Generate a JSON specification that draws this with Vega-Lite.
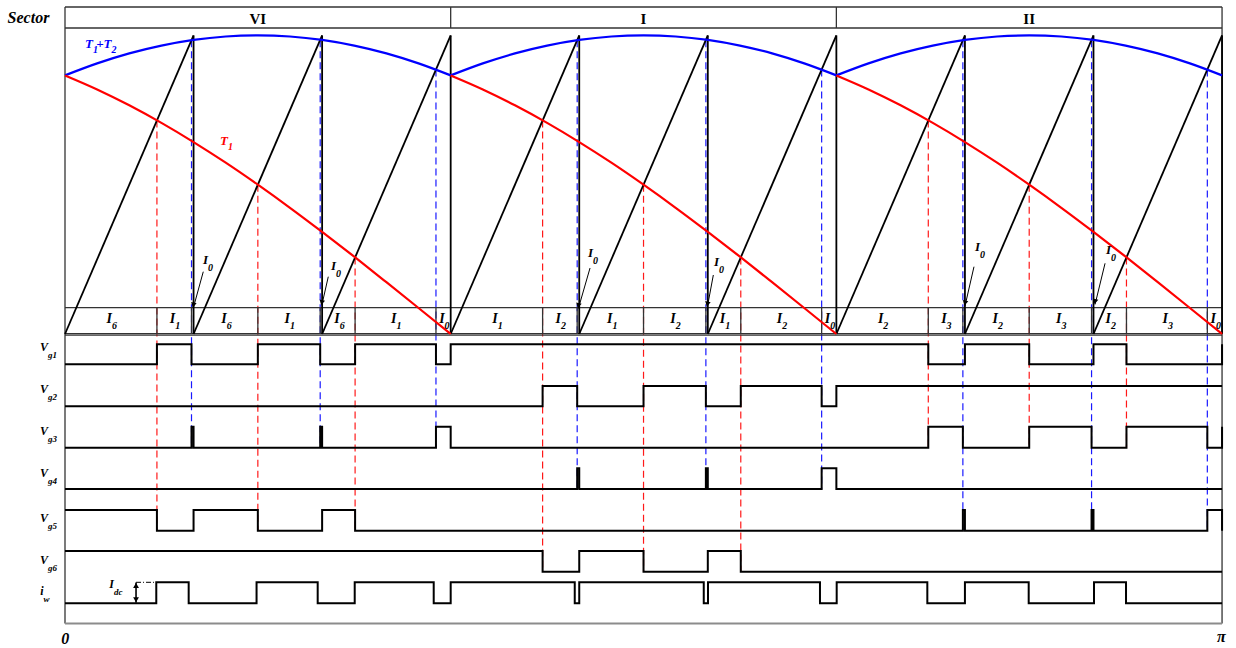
{
  "$schema": "https://vega.github.io/schema/vega-lite/v6.json",
  "width": 1236,
  "height": 648,
  "autosize": {"type": "fit", "contains": "padding"},
  "padding": 0,
  "background": "white",
  "config": {"view": {"stroke": null}, "text": {"font": "Liberation Serif"}},
  "datasets": {
    "sectorCells": [
      {"label": "VI", "mid": 30, "ymid": 18.5},
      {"label": "I", "mid": 90, "ymid": 18.5},
      {"label": "II", "mid": 150, "ymid": 18.5}
    ],
    "curves": [
      {"curve": "T1+T2", "sec": "VI", "x": 0, "y": 75.4}, {"curve": "T1+T2", "sec": "VI", "x": 5, "y": 63.4}, {"curve": "T1+T2", "sec": "VI", "x": 10, "y": 53.4}, {"curve": "T1+T2", "sec": "VI", "x": 15, "y": 45.6}, {"curve": "T1+T2", "sec": "VI", "x": 20, "y": 39.9}, {"curve": "T1+T2", "sec": "VI", "x": 25, "y": 36.5}, {"curve": "T1+T2", "sec": "VI", "x": 30, "y": 35.4}, {"curve": "T1+T2", "sec": "VI", "x": 35, "y": 36.5}, {"curve": "T1+T2", "sec": "VI", "x": 40, "y": 39.9}, {"curve": "T1+T2", "sec": "VI", "x": 45, "y": 45.6}, {"curve": "T1+T2", "sec": "VI", "x": 50, "y": 53.4}, {"curve": "T1+T2", "sec": "VI", "x": 55, "y": 63.4}, {"curve": "T1+T2", "sec": "VI", "x": 60, "y": 75.4},
      {"curve": "T1+T2", "sec": "I", "x": 60, "y": 75.4}, {"curve": "T1+T2", "sec": "I", "x": 65, "y": 63.4}, {"curve": "T1+T2", "sec": "I", "x": 70, "y": 53.4}, {"curve": "T1+T2", "sec": "I", "x": 75, "y": 45.6}, {"curve": "T1+T2", "sec": "I", "x": 80, "y": 39.9}, {"curve": "T1+T2", "sec": "I", "x": 85, "y": 36.5}, {"curve": "T1+T2", "sec": "I", "x": 90, "y": 35.4}, {"curve": "T1+T2", "sec": "I", "x": 95, "y": 36.5}, {"curve": "T1+T2", "sec": "I", "x": 100, "y": 39.9}, {"curve": "T1+T2", "sec": "I", "x": 105, "y": 45.6}, {"curve": "T1+T2", "sec": "I", "x": 110, "y": 53.4}, {"curve": "T1+T2", "sec": "I", "x": 115, "y": 63.4}, {"curve": "T1+T2", "sec": "I", "x": 120, "y": 75.4},
      {"curve": "T1+T2", "sec": "II", "x": 120, "y": 75.4}, {"curve": "T1+T2", "sec": "II", "x": 125, "y": 63.4}, {"curve": "T1+T2", "sec": "II", "x": 130, "y": 53.4}, {"curve": "T1+T2", "sec": "II", "x": 135, "y": 45.6}, {"curve": "T1+T2", "sec": "II", "x": 140, "y": 39.9}, {"curve": "T1+T2", "sec": "II", "x": 145, "y": 36.5}, {"curve": "T1+T2", "sec": "II", "x": 150, "y": 35.4}, {"curve": "T1+T2", "sec": "II", "x": 155, "y": 36.5}, {"curve": "T1+T2", "sec": "II", "x": 160, "y": 39.9}, {"curve": "T1+T2", "sec": "II", "x": 165, "y": 45.6}, {"curve": "T1+T2", "sec": "II", "x": 170, "y": 53.4}, {"curve": "T1+T2", "sec": "II", "x": 175, "y": 63.4}, {"curve": "T1+T2", "sec": "II", "x": 180, "y": 75.4},
      {"curve": "T1", "sec": "VI", "x": 0, "y": 75.4}, {"curve": "T1", "sec": "VI", "x": 5, "y": 89.4}, {"curve": "T1", "sec": "VI", "x": 10, "y": 105.3}, {"curve": "T1", "sec": "VI", "x": 15, "y": 122.9}, {"curve": "T1", "sec": "VI", "x": 20, "y": 142.1}, {"curve": "T1", "sec": "VI", "x": 25, "y": 162.7}, {"curve": "T1", "sec": "VI", "x": 30, "y": 184.7}, {"curve": "T1", "sec": "VI", "x": 35, "y": 207.8}, {"curve": "T1", "sec": "VI", "x": 40, "y": 231.9}, {"curve": "T1", "sec": "VI", "x": 45, "y": 256.7}, {"curve": "T1", "sec": "VI", "x": 50, "y": 282.2}, {"curve": "T1", "sec": "VI", "x": 55, "y": 308.0}, {"curve": "T1", "sec": "VI", "x": 60, "y": 334},
      {"curve": "T1", "sec": "I", "x": 60, "y": 75.4}, {"curve": "T1", "sec": "I", "x": 65, "y": 89.4}, {"curve": "T1", "sec": "I", "x": 70, "y": 105.3}, {"curve": "T1", "sec": "I", "x": 75, "y": 122.9}, {"curve": "T1", "sec": "I", "x": 80, "y": 142.1}, {"curve": "T1", "sec": "I", "x": 85, "y": 162.7}, {"curve": "T1", "sec": "I", "x": 90, "y": 184.7}, {"curve": "T1", "sec": "I", "x": 95, "y": 207.8}, {"curve": "T1", "sec": "I", "x": 100, "y": 231.9}, {"curve": "T1", "sec": "I", "x": 105, "y": 256.7}, {"curve": "T1", "sec": "I", "x": 110, "y": 282.2}, {"curve": "T1", "sec": "I", "x": 115, "y": 308.0}, {"curve": "T1", "sec": "I", "x": 120, "y": 334},
      {"curve": "T1", "sec": "II", "x": 120, "y": 75.4}, {"curve": "T1", "sec": "II", "x": 125, "y": 89.4}, {"curve": "T1", "sec": "II", "x": 130, "y": 105.3}, {"curve": "T1", "sec": "II", "x": 135, "y": 122.9}, {"curve": "T1", "sec": "II", "x": 140, "y": 142.1}, {"curve": "T1", "sec": "II", "x": 145, "y": 162.7}, {"curve": "T1", "sec": "II", "x": 150, "y": 184.7}, {"curve": "T1", "sec": "II", "x": 155, "y": 207.8}, {"curve": "T1", "sec": "II", "x": 160, "y": 231.9}, {"curve": "T1", "sec": "II", "x": 165, "y": 256.7}, {"curve": "T1", "sec": "II", "x": 170, "y": 282.2}, {"curve": "T1", "sec": "II", "x": 175, "y": 308.0}, {"curve": "T1", "sec": "II", "x": 180, "y": 334}
    ],
    "jumps": [{"x": 0}, {"x": 60}, {"x": 120}, {"x": 180}],
    "guides": [
      {"curve": "T1", "x": 14.3, "y": 120.5, "y2": 531},
      {"curve": "T1", "x": 30, "y": 184.7, "y2": 531},
      {"curve": "T1", "x": 45.13, "y": 257.4, "y2": 531},
      {"curve": "T1", "x": 74.3, "y": 120.5, "y2": 572},
      {"curve": "T1", "x": 90, "y": 184.7, "y2": 572},
      {"curve": "T1", "x": 105.13, "y": 257.4, "y2": 572},
      {"curve": "T1", "x": 134.3, "y": 120.5, "y2": 448},
      {"curve": "T1", "x": 150, "y": 184.7, "y2": 448},
      {"curve": "T1", "x": 165.13, "y": 257.4, "y2": 448},
      {"curve": "T1+T2", "x": 19.68, "y": 40.2, "y2": 448},
      {"curve": "T1+T2", "x": 39.7, "y": 40.2, "y2": 448},
      {"curve": "T1+T2", "x": 57.71, "y": 69.6, "y2": 448},
      {"curve": "T1+T2", "x": 79.68, "y": 40.2, "y2": 489},
      {"curve": "T1+T2", "x": 99.7, "y": 40.2, "y2": 489},
      {"curve": "T1+T2", "x": 117.71, "y": 69.6, "y2": 489},
      {"curve": "T1+T2", "x": 139.68, "y": 40.2, "y2": 531},
      {"curve": "T1+T2", "x": 159.7, "y": 40.2, "y2": 531},
      {"curve": "T1+T2", "x": 177.71, "y": 69.6, "y2": 531}
    ],
    "segs": [
      {"kind": "carrier", "x": 0, "y": 334, "x2": 20, "y2": 35.4},
      {"kind": "carrier", "x": 20, "y": 334, "x2": 40, "y2": 35.4},
      {"kind": "carrier", "x": 40, "y": 334, "x2": 60, "y2": 35.4},
      {"kind": "carrier", "x": 60, "y": 334, "x2": 80, "y2": 35.4},
      {"kind": "carrier", "x": 80, "y": 334, "x2": 100, "y2": 35.4},
      {"kind": "carrier", "x": 100, "y": 334, "x2": 120, "y2": 35.4},
      {"kind": "carrier", "x": 120, "y": 334, "x2": 140, "y2": 35.4},
      {"kind": "carrier", "x": 140, "y": 334, "x2": 160, "y2": 35.4},
      {"kind": "carrier", "x": 160, "y": 334, "x2": 180, "y2": 35.4},
      {"kind": "carrier", "x": 20, "y": 35.4, "x2": 20, "y2": 334},
      {"kind": "carrier", "x": 40, "y": 35.4, "x2": 40, "y2": 334},
      {"kind": "carrier", "x": 60, "y": 35.4, "x2": 60, "y2": 334},
      {"kind": "carrier", "x": 80, "y": 35.4, "x2": 80, "y2": 334},
      {"kind": "carrier", "x": 100, "y": 35.4, "x2": 100, "y2": 334},
      {"kind": "carrier", "x": 120, "y": 35.4, "x2": 120, "y2": 334},
      {"kind": "carrier", "x": 140, "y": 35.4, "x2": 140, "y2": 334},
      {"kind": "carrier", "x": 160, "y": 35.4, "x2": 160, "y2": 334},
      {"kind": "carrier", "x": 180, "y": 35.4, "x2": 180, "y2": 334},
      {"kind": "frame", "x": 0, "y": 7, "x2": 180, "y2": 7},
      {"kind": "frame", "x": 0, "y": 28, "x2": 180, "y2": 28},
      {"kind": "frame", "x": 0, "y": 7, "x2": 0, "y2": 623.5},
      {"kind": "frame", "x": 60, "y": 7, "x2": 60, "y2": 28},
      {"kind": "frame", "x": 120, "y": 7, "x2": 120, "y2": 28},
      {"kind": "frame", "x": 180, "y": 7, "x2": 180, "y2": 623.5},
      {"kind": "frame", "x": 0, "y": 307.7, "x2": 180, "y2": 307.7},
      {"kind": "frame", "x": 0, "y": 333.7, "x2": 180, "y2": 333.7},
      {"kind": "frame", "x": 0, "y": 335.2, "x2": 180, "y2": 335.2},
      {"kind": "frame", "x": 14.3, "y": 307.7, "x2": 14.3, "y2": 333.7},
      {"kind": "frame", "x": 19.68, "y": 307.7, "x2": 19.68, "y2": 333.7},
      {"kind": "frame", "x": 30, "y": 307.7, "x2": 30, "y2": 333.7},
      {"kind": "frame", "x": 39.7, "y": 307.7, "x2": 39.7, "y2": 333.7},
      {"kind": "frame", "x": 45.13, "y": 307.7, "x2": 45.13, "y2": 333.7},
      {"kind": "frame", "x": 57.71, "y": 307.7, "x2": 57.71, "y2": 333.7},
      {"kind": "frame", "x": 74.3, "y": 307.7, "x2": 74.3, "y2": 333.7},
      {"kind": "frame", "x": 79.68, "y": 307.7, "x2": 79.68, "y2": 333.7},
      {"kind": "frame", "x": 90, "y": 307.7, "x2": 90, "y2": 333.7},
      {"kind": "frame", "x": 99.7, "y": 307.7, "x2": 99.7, "y2": 333.7},
      {"kind": "frame", "x": 105.13, "y": 307.7, "x2": 105.13, "y2": 333.7},
      {"kind": "frame", "x": 117.71, "y": 307.7, "x2": 117.71, "y2": 333.7},
      {"kind": "frame", "x": 134.3, "y": 307.7, "x2": 134.3, "y2": 333.7},
      {"kind": "frame", "x": 139.68, "y": 307.7, "x2": 139.68, "y2": 333.7},
      {"kind": "frame", "x": 150, "y": 307.7, "x2": 150, "y2": 333.7},
      {"kind": "frame", "x": 159.7, "y": 307.7, "x2": 159.7, "y2": 333.7},
      {"kind": "frame", "x": 165.13, "y": 307.7, "x2": 165.13, "y2": 333.7},
      {"kind": "frame", "x": 177.71, "y": 307.7, "x2": 177.71, "y2": 333.7},
      {"kind": "base", "x": 0, "y": 623.5, "x2": 180, "y2": 623.5},
      {"kind": "dashdot", "x": 11.05, "y": 582.3, "x2": 14.1, "y2": 582.3}
    ],
    "signals": [
      {"sig": "g1", "x": 0, "y": 364.3}, {"sig": "g1", "x": 14.3, "y": 344.3}, {"sig": "g1", "x": 19.68, "y": 364.3}, {"sig": "g1", "x": 30, "y": 344.3}, {"sig": "g1", "x": 39.7, "y": 364.3}, {"sig": "g1", "x": 45.13, "y": 344.3}, {"sig": "g1", "x": 57.71, "y": 364.3}, {"sig": "g1", "x": 60, "y": 344.3}, {"sig": "g1", "x": 134.3, "y": 364.3}, {"sig": "g1", "x": 140, "y": 344.3}, {"sig": "g1", "x": 150, "y": 364.3}, {"sig": "g1", "x": 160, "y": 344.3}, {"sig": "g1", "x": 165.13, "y": 364.3}, {"sig": "g1", "x": 180, "y": 344.3},
      {"sig": "g2", "x": 0, "y": 406.3}, {"sig": "g2", "x": 74.3, "y": 386}, {"sig": "g2", "x": 79.68, "y": 406.3}, {"sig": "g2", "x": 90, "y": 386}, {"sig": "g2", "x": 99.7, "y": 406.3}, {"sig": "g2", "x": 105.13, "y": 386}, {"sig": "g2", "x": 117.71, "y": 406.3}, {"sig": "g2", "x": 120, "y": 386}, {"sig": "g2", "x": 180, "y": 386},
      {"sig": "g3", "x": 0, "y": 447.7}, {"sig": "g3", "x": 19.68, "y": 426.7}, {"sig": "g3", "x": 20, "y": 447.7}, {"sig": "g3", "x": 39.7, "y": 426.7}, {"sig": "g3", "x": 40, "y": 447.7}, {"sig": "g3", "x": 57.71, "y": 426.7}, {"sig": "g3", "x": 60, "y": 447.7}, {"sig": "g3", "x": 134.3, "y": 426.7}, {"sig": "g3", "x": 139.68, "y": 447.7}, {"sig": "g3", "x": 150, "y": 426.7}, {"sig": "g3", "x": 159.7, "y": 447.7}, {"sig": "g3", "x": 165.13, "y": 426.7}, {"sig": "g3", "x": 177.71, "y": 447.7}, {"sig": "g3", "x": 180, "y": 426.7},
      {"sig": "g4", "x": 0, "y": 489}, {"sig": "g4", "x": 79.68, "y": 468.3}, {"sig": "g4", "x": 80, "y": 489}, {"sig": "g4", "x": 99.7, "y": 468.3}, {"sig": "g4", "x": 100, "y": 489}, {"sig": "g4", "x": 117.71, "y": 468.3}, {"sig": "g4", "x": 120, "y": 489}, {"sig": "g4", "x": 180, "y": 489},
      {"sig": "g5", "x": 0, "y": 510}, {"sig": "g5", "x": 14.3, "y": 530.7}, {"sig": "g5", "x": 20, "y": 510}, {"sig": "g5", "x": 30, "y": 530.7}, {"sig": "g5", "x": 40, "y": 510}, {"sig": "g5", "x": 45.13, "y": 530.7}, {"sig": "g5", "x": 139.68, "y": 510}, {"sig": "g5", "x": 140, "y": 530.7}, {"sig": "g5", "x": 159.7, "y": 510}, {"sig": "g5", "x": 160, "y": 530.7}, {"sig": "g5", "x": 177.71, "y": 510}, {"sig": "g5", "x": 180, "y": 530.7},
      {"sig": "g6", "x": 0, "y": 551}, {"sig": "g6", "x": 74.3, "y": 571.7}, {"sig": "g6", "x": 80, "y": 551}, {"sig": "g6", "x": 90, "y": 571.7}, {"sig": "g6", "x": 100, "y": 551}, {"sig": "g6", "x": 105.13, "y": 571.7}, {"sig": "g6", "x": 180, "y": 571.7},
      {"sig": "iw", "x": 0, "y": 603.2}, {"sig": "iw", "x": 14.2, "y": 582.3}, {"sig": "iw", "x": 19.24, "y": 603.2}, {"sig": "iw", "x": 29.8, "y": 582.3}, {"sig": "iw", "x": 39.31, "y": 603.2}, {"sig": "iw", "x": 45.07, "y": 582.3}, {"sig": "iw", "x": 57.36, "y": 603.2}, {"sig": "iw", "x": 60, "y": 582.3}, {"sig": "iw", "x": 79.3, "y": 603.2}, {"sig": "iw", "x": 80, "y": 582.3}, {"sig": "iw", "x": 99.37, "y": 603.2}, {"sig": "iw", "x": 100.03, "y": 582.3}, {"sig": "iw", "x": 117.45, "y": 603.2}, {"sig": "iw", "x": 120.05, "y": 582.3}, {"sig": "iw", "x": 134.15, "y": 603.2}, {"sig": "iw", "x": 140, "y": 582.3}, {"sig": "iw", "x": 149.92, "y": 603.2}, {"sig": "iw", "x": 160.08, "y": 582.3}, {"sig": "iw", "x": 165.06, "y": 603.2}, {"sig": "iw", "x": 180, "y": 603.2}
    ],
    "arrows": [
      {"x": 21.51, "y": 271.7, "x2": 19.96, "y2": 308},
      {"x": 40.96, "y": 276.7, "x2": 39.94, "y2": 305.5},
      {"x": 81.68, "y": 268, "x2": 79.86, "y2": 308.5},
      {"x": 100.86, "y": 275, "x2": 99.93, "y2": 307},
      {"x": 141.41, "y": 266.7, "x2": 140.01, "y2": 306},
      {"x": 161.8, "y": 263.3, "x2": 160.24, "y2": 304.5}
    ],
    "dcArrow": [{"x": 11.05, "y": 582.5, "x2": 11.05, "y2": 602.8}],
    "notes": [
      {"kind": "row", "x": 7.15, "y": 318.5, "main": "I", "sub": "6"},
      {"kind": "row", "x": 16.99, "y": 318.5, "main": "I", "sub": "1"},
      {"kind": "row", "x": 25, "y": 318.5, "main": "I", "sub": "6"},
      {"kind": "row", "x": 34.85, "y": 318.5, "main": "I", "sub": "1"},
      {"kind": "row", "x": 42.57, "y": 318.5, "main": "I", "sub": "6"},
      {"kind": "row", "x": 51.42, "y": 318.5, "main": "I", "sub": "1"},
      {"kind": "row", "x": 58.9, "y": 318.5, "main": "I", "sub": "0"},
      {"kind": "row", "x": 67.15, "y": 318.5, "main": "I", "sub": "1"},
      {"kind": "row", "x": 76.99, "y": 318.5, "main": "I", "sub": "2"},
      {"kind": "row", "x": 85, "y": 318.5, "main": "I", "sub": "1"},
      {"kind": "row", "x": 94.85, "y": 318.5, "main": "I", "sub": "2"},
      {"kind": "row", "x": 102.57, "y": 318.5, "main": "I", "sub": "1"},
      {"kind": "row", "x": 111.42, "y": 318.5, "main": "I", "sub": "2"},
      {"kind": "row", "x": 118.9, "y": 318.5, "main": "I", "sub": "0"},
      {"kind": "row", "x": 127.15, "y": 318.5, "main": "I", "sub": "2"},
      {"kind": "row", "x": 136.99, "y": 318.5, "main": "I", "sub": "3"},
      {"kind": "row", "x": 145, "y": 318.5, "main": "I", "sub": "2"},
      {"kind": "row", "x": 154.85, "y": 318.5, "main": "I", "sub": "3"},
      {"kind": "row", "x": 162.57, "y": 318.5, "main": "I", "sub": "2"},
      {"kind": "row", "x": 171.42, "y": 318.5, "main": "I", "sub": "3"},
      {"kind": "row", "x": 178.9, "y": 318.5, "main": "I", "sub": "0"},
      {"kind": "gate", "x": -2.8, "y": 347, "main": "V", "sub": "g1"},
      {"kind": "gate", "x": -2.8, "y": 389, "main": "V", "sub": "g2"},
      {"kind": "gate", "x": -2.8, "y": 431, "main": "V", "sub": "g3"},
      {"kind": "gate", "x": -2.8, "y": 472.5, "main": "V", "sub": "g4"},
      {"kind": "gate", "x": -2.8, "y": 517.5, "main": "V", "sub": "g5"},
      {"kind": "gate", "x": -2.8, "y": 560, "main": "V", "sub": "g6"},
      {"kind": "gate", "x": -3.5, "y": 591, "main": "i", "sub": "w"},
      {"kind": "dc", "x": 7.47, "y": 584, "main": "I", "sub": "dc"},
      {"kind": "zero", "x": 22.09, "y": 260, "main": "I", "sub": "0"},
      {"kind": "zero", "x": 42.0, "y": 266, "main": "I", "sub": "0"},
      {"kind": "zero", "x": 81.99, "y": 253, "main": "I", "sub": "0"},
      {"kind": "zero", "x": 101.59, "y": 262, "main": "I", "sub": "0"},
      {"kind": "zero", "x": 142.2, "y": 247, "main": "I", "sub": "0"},
      {"kind": "zero", "x": 162.57, "y": 250, "main": "I", "sub": "0"},
      {"kind": "curve", "curve": "T1+T2", "x": 4.2, "y": 44, "main": "T", "sub": "1"},
      {"kind": "curve", "curve": "T1+T2", "x": 7.08, "y": 44, "main": "+T", "sub": "2"},
      {"kind": "curve", "curve": "T1", "x": 25.2, "y": 141, "main": "T", "sub": "1"}
    ],
    "plain": [
      {"x": -5.68, "y": 17.5, "t": "Sector"},
      {"x": 0.05, "y": 639, "t": "0"},
      {"x": 179.9, "y": 637, "t": "π"}
    ]
  },
  "encoding": {
    "x": {"field": "x", "type": "quantitative", "scale": {"domain": [-10.112, 182.17], "nice": false, "zero": false}, "axis": null},
    "y": {"field": "y", "type": "quantitative", "scale": {"domain": [0, 648], "nice": false, "zero": false, "reverse": true}, "axis": null}
  },
  "layer": [
    {
      "data": {"name": "guides"},
      "mark": {"type": "rule", "strokeDash": [7, 4], "strokeWidth": 1.2, "opacity": 0.9},
      "encoding": {
        "y2": {"field": "y2"},
        "color": {"field": "curve", "type": "nominal", "scale": {"domain": ["T1+T2", "T1"], "range": ["#0000ff", "#ff0000"]}, "legend": null}
      }
    },
    {
      "data": {"name": "segs"},
      "transform": [{"filter": "datum.kind === 'frame'"}],
      "mark": {"type": "rule", "color": "#333333", "strokeWidth": 1.3},
      "encoding": {"x2": {"field": "x2"}, "y2": {"field": "y2"}}
    },
    {
      "data": {"name": "segs"},
      "transform": [{"filter": "datum.kind === 'base'"}],
      "mark": {"type": "rule", "color": "#8c8c8c", "strokeWidth": 2},
      "encoding": {"x2": {"field": "x2"}, "y2": {"field": "y2"}}
    },
    {
      "data": {"name": "segs"},
      "transform": [{"filter": "datum.kind === 'dashdot'"}],
      "mark": {"type": "rule", "color": "#000000", "strokeWidth": 1, "strokeDash": [5, 2, 1, 2]},
      "encoding": {"x2": {"field": "x2"}, "y2": {"field": "y2"}}
    },
    {
      "data": {"name": "segs"},
      "transform": [{"filter": "datum.kind === 'carrier'"}],
      "mark": {"type": "rule", "color": "#000000", "strokeWidth": 1.8},
      "encoding": {"x2": {"field": "x2"}, "y2": {"field": "y2"}}
    },
    {
      "data": {"name": "curves"},
      "mark": {"type": "line", "interpolate": "monotone", "strokeWidth": 2.2},
      "encoding": {
        "detail": {"field": "sec", "type": "nominal"},
        "color": {"field": "curve", "type": "nominal", "legend": null}
      }
    },
    {
      "data": {"name": "jumps"},
      "mark": {"type": "rule", "color": "#ff0000", "strokeWidth": 2.6},
      "encoding": {"y": {"datum": 75.4, "type": "quantitative"}, "y2": {"datum": 334}}
    },
    {
      "data": {"name": "signals"},
      "mark": {"type": "line", "interpolate": "step-after", "color": "#000000", "strokeWidth": 2},
      "encoding": {"detail": {"field": "sig", "type": "nominal"}}
    },
    {
      "data": {"name": "arrows"},
      "mark": {"type": "rule", "color": "#000000", "strokeWidth": 1},
      "encoding": {"x2": {"field": "x2"}, "y2": {"field": "y2"}}
    },
    {
      "data": {"name": "arrows"},
      "mark": {"type": "point", "shape": "triangle-down", "filled": true, "color": "#000000", "opacity": 1, "size": 32, "angle": 14, "yOffset": -3},
      "encoding": {
        "x": {"field": "x2", "type": "quantitative"},
        "y": {"field": "y2", "type": "quantitative"}
      }
    },
    {
      "data": {"name": "dcArrow"},
      "mark": {"type": "rule", "color": "#000000", "strokeWidth": 1.6},
      "encoding": {"y2": {"field": "y2"}}
    },
    {
      "data": {"name": "dcArrow"},
      "mark": {"type": "point", "shape": "triangle-up", "filled": true, "color": "#000000", "opacity": 1, "size": 34, "yOffset": 3}
    },
    {
      "data": {"name": "dcArrow"},
      "mark": {"type": "point", "shape": "triangle-down", "filled": true, "color": "#000000", "opacity": 1, "size": 34, "yOffset": -3},
      "encoding": {"y": {"field": "y2", "type": "quantitative"}}
    },
    {
      "data": {"name": "sectorCells"},
      "mark": {"type": "text", "fontSize": 15, "fontWeight": "bold", "baseline": "middle", "align": "center", "color": "#000000"},
      "encoding": {"x": {"field": "mid", "type": "quantitative"}, "y": {"field": "ymid", "type": "quantitative"}, "text": {"field": "label"}}
    },
    {
      "data": {"name": "notes"},
      "transform": [{"filter": "datum.kind === 'row'"}],
      "mark": {"type": "text", "fontSize": 14, "fontStyle": "italic", "fontWeight": "bold", "align": "right", "baseline": "middle", "dx": 1, "color": "#000000"},
      "encoding": {"text": {"field": "main"}}
    },
    {
      "data": {"name": "notes"},
      "transform": [{"filter": "datum.kind === 'row'"}],
      "mark": {"type": "text", "fontSize": 10, "fontStyle": "italic", "fontWeight": "bold", "align": "left", "baseline": "middle", "dx": 1, "dy": 7, "color": "#000000"},
      "encoding": {"text": {"field": "sub"}}
    },
    {
      "data": {"name": "notes"},
      "transform": [{"filter": "datum.kind === 'gate' || datum.kind === 'dc'"}],
      "mark": {"type": "text", "fontSize": 12, "fontStyle": "italic", "fontWeight": "bold", "align": "right", "baseline": "middle", "dx": 1, "color": "#000000"},
      "encoding": {"text": {"field": "main"}}
    },
    {
      "data": {"name": "notes"},
      "transform": [{"filter": "datum.kind === 'gate' || datum.kind === 'dc'"}],
      "mark": {"type": "text", "fontSize": 9, "fontStyle": "italic", "fontWeight": "bold", "align": "left", "baseline": "middle", "dx": 1, "dy": 8, "color": "#000000"},
      "encoding": {"text": {"field": "sub"}}
    },
    {
      "data": {"name": "notes"},
      "transform": [{"filter": "datum.kind === 'zero'"}],
      "mark": {"type": "text", "fontSize": 13, "fontStyle": "italic", "fontWeight": "bold", "align": "right", "baseline": "middle", "dx": 1, "color": "#000000"},
      "encoding": {"text": {"field": "main"}}
    },
    {
      "data": {"name": "notes"},
      "transform": [{"filter": "datum.kind === 'zero'"}],
      "mark": {"type": "text", "fontSize": 10, "fontStyle": "italic", "fontWeight": "bold", "align": "left", "baseline": "middle", "dx": 1, "dy": 8, "color": "#000000"},
      "encoding": {"text": {"field": "sub"}}
    },
    {
      "data": {"name": "notes"},
      "transform": [{"filter": "datum.kind === 'curve'"}],
      "mark": {"type": "text", "fontSize": 13, "fontStyle": "italic", "fontWeight": "bold", "align": "right", "baseline": "middle", "dx": 1},
      "encoding": {"text": {"field": "main"}, "color": {"field": "curve", "type": "nominal", "legend": null}}
    },
    {
      "data": {"name": "notes"},
      "transform": [{"filter": "datum.kind === 'curve'"}],
      "mark": {"type": "text", "fontSize": 10, "fontStyle": "italic", "fontWeight": "bold", "align": "left", "baseline": "middle", "dx": 1, "dy": 6},
      "encoding": {"text": {"field": "sub"}, "color": {"field": "curve", "type": "nominal", "legend": null}}
    },
    {
      "data": {"name": "plain"},
      "mark": {"type": "text", "fontSize": 16, "fontStyle": "italic", "fontWeight": "bold", "align": "center", "baseline": "middle", "color": "#000000"},
      "encoding": {"text": {"field": "t"}}
    }
  ]
}
